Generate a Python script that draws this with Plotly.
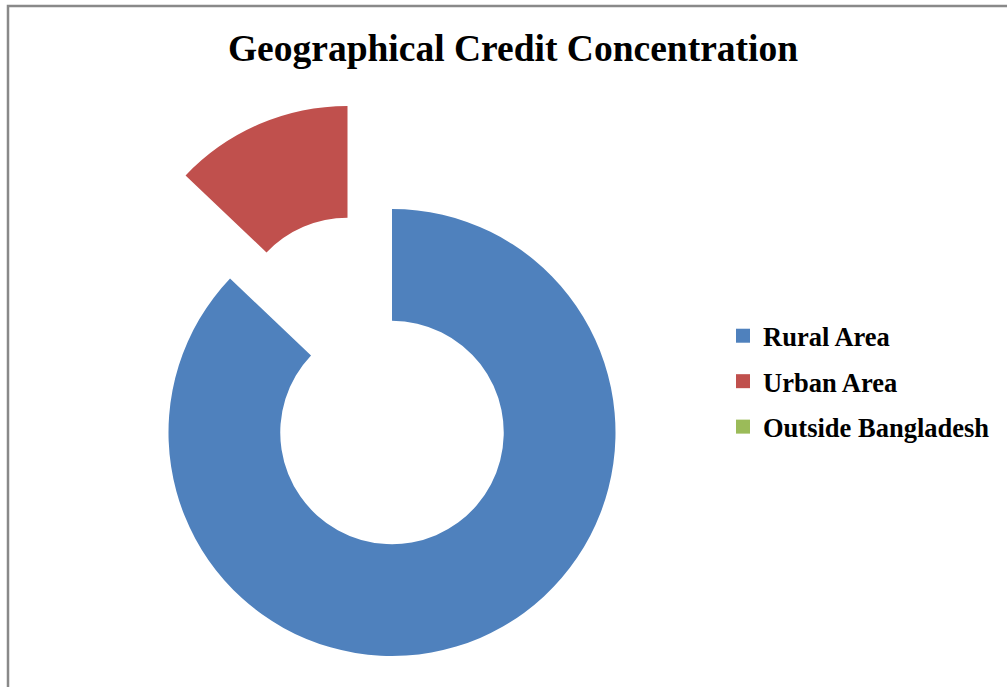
import plotly.graph_objects as go

# Share of credit by geography (%)
regions = ["Rural Area", "Urban Area", "Outside Bangladesh"]
shares = [87.1, 12.9, 0.0]
colors = ["#4F81BD", "#C0504D", "#9BBB59"]

W, H = 1007, 687
CLEAR = "rgba(0,0,0,0)"
pulled = "Urban Area"


def px_domain(cx, cy, r):
    """Square pie domain (paper fractions) from a centre and radius in pixels."""
    return dict(
        x=[(cx - r) / W, (cx + r) / W],
        y=[(H - cy - r) / H, (H - cy + r) / H],
    )


R = 223.5
ring_center = (392.0, 432.5)
pull_offset = (-44.5, -103.0)  # urban slice is exploded away from the ring

fig = go.Figure()

# Main ring: every slice except the exploded one
fig.add_trace(go.Pie(
    labels=regions, values=shares,
    marker=dict(colors=[CLEAR if r == pulled else c for r, c in zip(regions, colors)],
                line=dict(width=0)),
    hole=0.5, sort=False, direction="clockwise", rotation=0,
    textinfo="none", showlegend=False,
    domain=px_domain(ring_center[0], ring_center[1], R),
))

# Exploded slice, drawn on a shifted copy of the ring
fig.add_trace(go.Pie(
    labels=regions, values=shares,
    marker=dict(colors=[c if r == pulled else CLEAR for r, c in zip(regions, colors)],
                line=dict(width=0)),
    hole=0.5, sort=False, direction="clockwise", rotation=0,
    textinfo="none", showlegend=False,
    domain=px_domain(ring_center[0] + pull_offset[0], ring_center[1] + pull_offset[1], R),
))

# Legend entries
for r, c in zip(regions, colors):
    fig.add_trace(go.Scatter(
        x=[None], y=[None], mode="markers", name=r, legendgroup=r,
        marker=dict(symbol="square", size=14, color=c),
    ))

fig.update_layout(
    width=W, height=H,
    margin=dict(l=0, r=0, t=0, b=0),
    paper_bgcolor="white", plot_bgcolor="white",
    title=dict(
        text="<b>Geographical Credit Concentration</b>",
        x=513 / W, xanchor="center", xref="paper",
        y=1 - 48 / H, yanchor="middle", yref="paper",
        font=dict(family="Liberation Serif", size=37.5, color="black"),
    ),
    xaxis=dict(visible=False), yaxis=dict(visible=False),
    legend=dict(
        x=723 / W, xanchor="left", y=1 - 312 / H, yanchor="top",
        font=dict(family="Liberation Serif", size=26.5, color="black", weight="bold"),
        traceorder="grouped", tracegroupgap=8,
        bgcolor="rgba(0,0,0,0)",
    ),
    shapes=[dict(
        type="rect", xref="paper", yref="paper",
        x0=8 / W, x1=1.02, y0=-0.02, y1=1 - 6 / H,
        line=dict(color="#898989", width=2.5),
    )],
)

fig.write_html("out.html")
